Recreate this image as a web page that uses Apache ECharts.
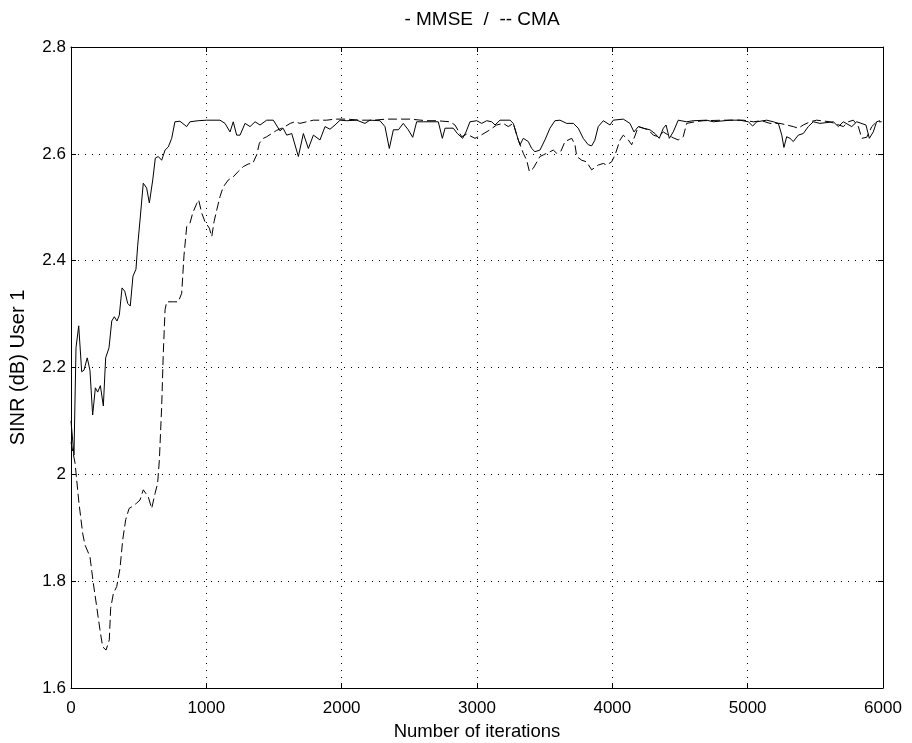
<!DOCTYPE html>
<html>
<head>
<meta charset="utf-8">
<script src="https://cdn.jsdelivr.net/npm/echarts@6/dist/echarts.min.js"></script>
<style>html,body{margin:0;padding:0;background:#fff;}#c{width:912px;height:743px;}</style>
</head>
<body>
<div id="c"></div>
<script>
const titleText = '- MMSE  /  -- CMA';
const xName = 'Number of iterations';
const yName = 'SINR (dB) User 1';

const mmseIter = [0,22,37,57,79,96,120,140,160,180,197,217,239,256,281,301,320,340,357,377,397,419,438,458,480,493,510,534,559,579,604,623,645,670,695,719,744,768,805,855,879,940,1003,1101,1138,1175,1199,1224,1249,1286,1323,1360,1397,1446,1495,1544,1567,1594,1631,1680,1717,1754,1791,1840,1877,1914,1951,1988,2037,2111,2172,2209,2283,2320,2352,2382,2419,2455,2492,2525,2554,2603,2714,2744,2764,2825,2855,2894,2919,2948,2998,3035,3072,3109,3133,3170,3244,3268,3305,3318,3342,3379,3404,3428,3465,3502,3539,3576,3613,3663,3712,3748,3785,3822,3847,3870,3896,3933,3983,4007,4081,4130,4160,4192,4229,4278,4315,4347,4377,4397,4421,4450,4487,4549,4598,4697,4746,4869,4943,5005,5037,5067,5141,5190,5227,5252,5268,5288,5313,5337,5374,5411,5448,5485,5534,5633,5670,5707,5769,5806,5874,5899,5928,5953,5978];
const mmseSinr = [2.100,2.036,2.237,2.278,2.192,2.195,2.218,2.195,2.111,2.162,2.154,2.166,2.128,2.218,2.237,2.287,2.295,2.287,2.298,2.349,2.343,2.320,2.315,2.371,2.384,2.429,2.476,2.545,2.536,2.508,2.551,2.592,2.595,2.588,2.607,2.613,2.629,2.660,2.661,2.651,2.660,2.662,2.663,2.663,2.657,2.641,2.660,2.635,2.635,2.657,2.651,2.660,2.654,2.663,2.663,2.643,2.648,2.635,2.638,2.595,2.638,2.610,2.635,2.626,2.651,2.646,2.654,2.663,2.662,2.663,2.657,2.663,2.662,2.651,2.610,2.645,2.645,2.657,2.645,2.631,2.660,2.660,2.660,2.629,2.648,2.648,2.638,2.629,2.641,2.660,2.662,2.657,2.662,2.660,2.654,2.663,2.663,2.657,2.626,2.617,2.629,2.623,2.610,2.604,2.607,2.626,2.648,2.662,2.663,2.657,2.657,2.648,2.629,2.617,2.615,2.625,2.651,2.662,2.654,2.663,2.665,2.657,2.641,2.651,2.648,2.645,2.638,2.629,2.648,2.654,2.629,2.641,2.663,2.660,2.662,2.663,2.660,2.663,2.663,2.660,2.652,2.660,2.663,2.660,2.657,2.635,2.612,2.632,2.629,2.623,2.635,2.638,2.651,2.660,2.657,2.660,2.651,2.660,2.651,2.660,2.654,2.629,2.641,2.660,2.662];

const cmaIter = [0,30,59,86,103,116,140,165,190,214,234,259,283,293,313,338,362,382,404,429,448,485,510,534,571,596,621,640,653,670,682,695,707,756,793,818,835,855,879,899,929,943,966,990,1022,1040,1057,1077,1101,1125,1162,1199,1236,1273,1310,1343,1372,1392,1421,1446,1483,1520,1557,1581,1620,1655,1692,1741,1791,1889,1951,2037,2135,2234,2333,2407,2505,2628,2702,2800,2837,2887,2924,2985,3010,3096,3145,3194,3231,3268,3305,3342,3367,3387,3416,3465,3490,3564,3589,3620,3650,3700,3724,3737,3774,3810,3847,3859,3896,3933,3958,3995,4020,4057,4081,4118,4143,4192,4229,4266,4303,4340,4377,4414,4450,4487,4524,4549,4611,4672,4820,4968,5042,5103,5165,5239,5337,5374,5411,5461,5510,5608,5707,5744,5781,5818,5843,5880,5917,5953,5990];
const cmaSinr = [2.060,2.021,1.946,1.890,1.868,1.868,1.846,1.796,1.752,1.709,1.677,1.671,1.690,1.749,1.777,1.790,1.824,1.877,1.915,1.936,1.939,1.946,1.952,1.971,1.958,1.936,1.964,1.983,2.027,2.127,2.227,2.308,2.323,2.323,2.323,2.339,2.410,2.464,2.470,2.489,2.507,2.514,2.489,2.473,2.461,2.445,2.473,2.495,2.520,2.538,2.551,2.557,2.567,2.576,2.581,2.582,2.598,2.620,2.629,2.632,2.638,2.644,2.648,2.651,2.657,2.660,2.657,2.660,2.663,2.663,2.665,2.665,2.663,2.663,2.665,2.665,2.665,2.662,2.662,2.660,2.654,2.632,2.637,2.629,2.632,2.645,2.654,2.657,2.651,2.657,2.626,2.601,2.588,2.567,2.573,2.595,2.598,2.607,2.601,2.605,2.623,2.629,2.617,2.595,2.588,2.585,2.570,2.567,2.579,2.582,2.579,2.585,2.598,2.626,2.635,2.626,2.617,2.651,2.648,2.645,2.635,2.632,2.641,2.635,2.630,2.626,2.632,2.657,2.660,2.662,2.663,2.663,2.660,2.662,2.657,2.657,2.651,2.648,2.654,2.660,2.663,2.660,2.651,2.660,2.663,2.651,2.629,2.631,2.651,2.660,2.660];

const xTicks = {min: 0, max: 6000, interval: 1000};
const yTicks = {min: 1.6, max: 2.8, interval: 0.2};

const FONT = '"Liberation Sans", Arial, sans-serif';
const gridLine = {show: true, lineStyle: {color: '#000', width: 1, type: [1, 6]}};
const axisLine = {show: true, onZero: false, lineStyle: {color: '#000', width: 1}};
const ticks = {show: true, inside: true, length: 5, lineStyle: {color: '#000'}};

const chart = echarts.init(document.getElementById('c'), null, {renderer: 'canvas'});
chart.setOption({
  animation: false,
  backgroundColor: '#fff',
  title: {text: titleText, left: 477, textAlign: 'center', top: 5,
    textStyle: {fontFamily: FONT, fontSize: 19, fontWeight: 'normal', color: '#000'}},
  grid: {left: 71, right: 29, top: 47, bottom: 55, containLabel: false, outerBoundsMode: 'none'},
  xAxis: [
    {type: 'value', position: 'bottom', min: xTicks.min, max: xTicks.max, interval: xTicks.interval,
     name: xName, nameLocation: 'middle', nameGap: 34,
     nameTextStyle: {fontFamily: FONT, fontSize: 18.5, color: '#000'},
     axisLine: axisLine, axisTick: ticks, splitLine: gridLine,
     axisLabel: {fontFamily: FONT, fontSize: 17, color: '#000', margin: 12, formatter: v => String(v)}},
    {type: 'value', position: 'top', min: xTicks.min, max: xTicks.max, interval: xTicks.interval,
     axisLine: axisLine, axisTick: ticks, splitLine: {show: false}, axisLabel: {show: false}}
  ],
  yAxis: [
    {type: 'value', position: 'left', min: yTicks.min, max: yTicks.max, interval: yTicks.interval,
     name: yName, nameLocation: 'middle', nameGap: 43,
     nameTextStyle: {fontFamily: FONT, fontSize: 20, color: '#000'},
     axisLine: axisLine, axisTick: ticks, splitLine: gridLine,
     axisLabel: {fontFamily: FONT, fontSize: 17, color: '#000', margin: 5}},
    {type: 'value', position: 'right', min: yTicks.min, max: yTicks.max, interval: yTicks.interval,
     axisLine: axisLine, axisTick: ticks, splitLine: {show: false}, axisLabel: {show: false}}
  ],
  series: [
    {name: 'MMSE', type: 'line', xAxisIndex: 0, yAxisIndex: 0, showSymbol: false, symbol: 'none',
     data: mmseIter.map((x, i) => [x, mmseSinr[i]]),
     lineStyle: {color: '#000', width: 1, type: 'solid'}, z: 3},
    {name: 'CMA', type: 'line', xAxisIndex: 0, yAxisIndex: 0, showSymbol: false, symbol: 'none',
     data: cmaIter.map((x, i) => [x, cmaSinr[i]]),
     lineStyle: {color: '#000', width: 1, type: [9, 4]}, z: 2}
  ]
});
</script>
</body>
</html>
